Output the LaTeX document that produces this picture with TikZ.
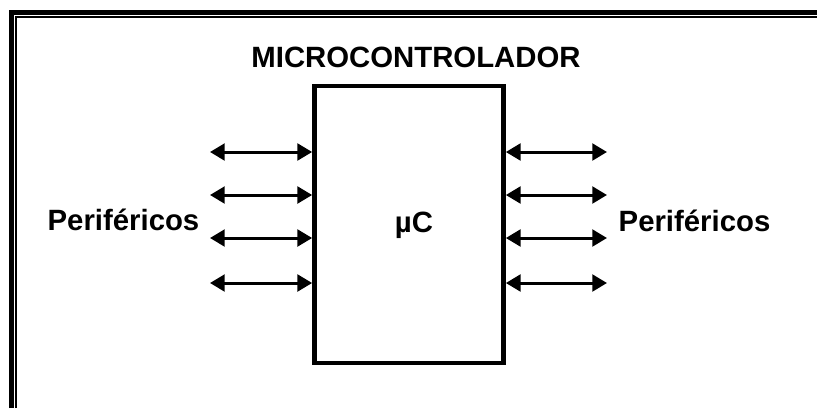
\documentclass[tikz,border=0pt]{standalone}
\usepackage{fontspec}
\setmainfont{Liberation Sans}
\usetikzlibrary{arrows.meta,positioning}

\tikzset{
  label/.style={font=\fontsize{22}{26}\selectfont\bfseries, inner sep=0pt, anchor=base},
  bus/.style={line width=2.25pt, {Triangle[length=11pt, width=12.5pt]}-{Triangle[length=11pt, width=12.5pt]}},
}

\begin{document}
\begin{tikzpicture}[x=0.75pt, y=-0.75pt]
  \useasboundingbox (0,0) rectangle (817,408);
  % frame
  \draw[line width=3.6pt] (11.5,408) -- (11.5,12.5) -- (817,12.5);
  \draw[line width=1.3pt] (15.8,408) -- (15.8,16.8) -- (817,16.8);

  \node[draw, line width=3.3pt, minimum width=142pt, minimum height=208pt, inner sep=0pt] (mcu) at (409,224.5) {};
  \node[label] (muc) at (414,232) {µC};
  \node[label] (title) at (416,67) {MICROCONTROLADOR};
  \node[label] (pleft) at (123.5,230) {Periféricos};
  \node[label] (pright) at (694.5,231) {Periféricos};

  % buses
  \coordinate (l1) at (210,152);
  \coordinate (l2) at (210,195);
  \coordinate (l3) at (210,238);
  \coordinate (l4) at (210,283);
  \coordinate (r1) at (607,152);
  \coordinate (r2) at (607,195);
  \coordinate (r3) at (607,238);
  \coordinate (r4) at (607,283);
  \foreach \i in {1,...,4} {
    \draw[bus] (l\i) -- (l\i -| mcu.west);
    \draw[bus] (mcu.east |- r\i) -- (r\i);
  }
\end{tikzpicture}
\end{document}
